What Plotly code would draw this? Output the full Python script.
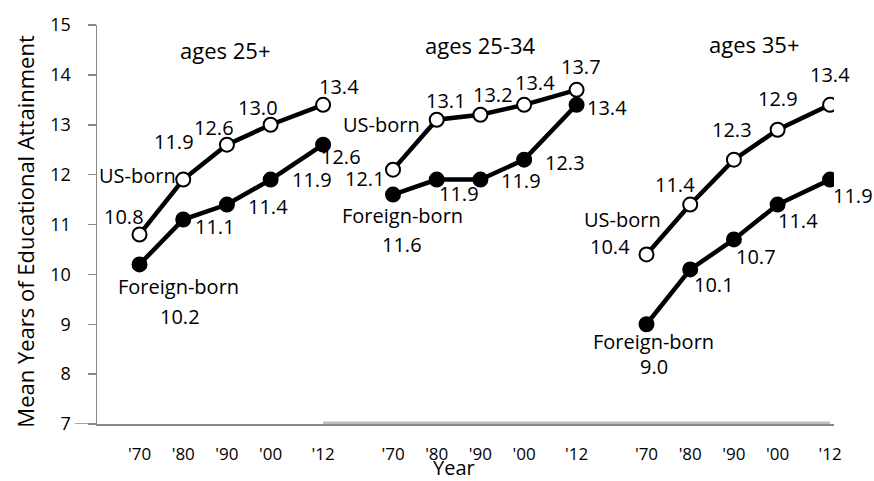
import plotly.graph_objects as go

# ---- data ----
years = [1970, 1980, 1990, 2000, 2012]
year_labels = ["'70", "'80", "'90", "'00", "'12"]
panels = ["ages 25+", "ages 25-34", "ages 35+"]
us_born = [
    [10.8, 11.9, 12.6, 13.0, 13.4],
    [12.1, 13.1, 13.2, 13.4, 13.7],
    [10.4, 11.4, 12.3, 12.9, 13.4],
]
foreign_born = [
    [10.2, 11.1, 11.4, 11.9, 12.6],
    [11.6, 11.9, 11.9, 12.3, 13.4],
    [9.0, 10.1, 10.7, 11.4, 11.9],
]
series_names = ["US-born", "Foreign-born"]

# ---- style / layout ----
GROUP_OFFSET = 58  # gap between panels along the shared year axis
FONT = "Open Sans"
us_off = [
    [(-16, -18), (-9, -38), (-13, -17), (-13, -17), (16, -18)],
    [(-28, 9), (9, -19), (13, -20), (11, -22), (4, -23)],
    [(-37, -8), (-15, -20), (-2, -30), (0, -31), (0, -30)],
]
fb_off = [
    [(40, 52), (32, 7), (41, 2), (41, 0), (18, 12)],
    [(9, 50), (22, 14), (41, 1), (41, 3), (30, 3)],
    [(7, 42), (24, 15), (22, 17), (20, 16), (23, 16)],
]
us_name_off = [(-2, -59), (-12, -45), (-24, -35)]
fb_name_off = [(39, 22), (9, 21), (7, 17)]
title_x = [1989.5, 1990.0, 1994.6]
title_y = [14.5, 14.6, 14.62]

fig = go.Figure()
annotations = []
tickvals, ticktext = [], []

for g in range(3):
    xs = [y + GROUP_OFFSET * g for y in years]
    tickvals += xs
    ticktext += year_labels
    for vals, fill, offs, name, name_off in [
        (us_born[g], "white", us_off[g], series_names[0], us_name_off[g]),
        (foreign_born[g], "black", fb_off[g], series_names[1], fb_name_off[g]),
    ]:
        fig.add_trace(go.Scatter(
            x=xs, y=vals, mode="lines+markers", showlegend=False,
            line=dict(color="black", width=4.5),
            marker=dict(size=14, color=fill, line=dict(color="black", width=2)),
            hoverinfo="skip",
        ))
        for x, v, (dx, dy) in zip(xs, vals, offs):
            annotations.append(dict(
                x=x, y=v, xref="x", yref="y", text=f"{v:.1f}", showarrow=False,
                xshift=dx, yshift=-dy, font=dict(size=20, color="black", family=FONT),
            ))
        annotations.append(dict(
            x=xs[0], y=vals[0], xref="x", yref="y", text=name, showarrow=False,
            xshift=name_off[0], yshift=-name_off[1],
            font=dict(size=20, color="black", family=FONT),
        ))
    annotations.append(dict(
        x=title_x[g] + GROUP_OFFSET * g, y=title_y[g], xref="x", yref="y",
        text=panels[g], showarrow=False, font=dict(size=22, color="black", family=FONT),
    ))

annotations.append(dict(
    x=0.484, y=-0.108, xref="paper", yref="paper", text="Year", showarrow=False,
    yanchor="middle", font=dict(size=20, color="black", family=FONT),
))
annotations.append(dict(
    x=-0.098, y=0.484, xref="paper", yref="paper", text="Mean Years of Educational Attainment",
    showarrow=False, textangle=-90, xanchor="center", yanchor="middle",
    font=dict(size=22, color="black", family=FONT),
))

shapes = [
    dict(type="line", xref="x domain", yref="y", x0=-0.03, x1=0, y0=7, y1=7,
         line=dict(color="#888888", width=1.5)),
    dict(type="line", xref="x", yref="y", x0=years[-1], x1=years[-1] + 2 * GROUP_OFFSET,
         y0=7, y1=7, line=dict(color="#bdbdbd", width=5)),
]

fig.update_layout(
    width=874, height=481,
    margin=dict(l=97, r=40, t=21, b=57),
    plot_bgcolor="white", paper_bgcolor="white",
    font=dict(family=FONT, color="black"),
    annotations=annotations, shapes=shapes,
    xaxis=dict(
        range=[1960.27, 2128.9], showgrid=False, zeroline=False,
        showline=True, linecolor="#888888", linewidth=1.5,
        tickmode="array", tickvals=tickvals, ticktext=ticktext,
        ticks="", tickfont=dict(size=17, color="black"), ticklabelstandoff=14,
    ),
    yaxis=dict(
        range=[7, 15], dtick=1, showgrid=False, zeroline=False,
        showline=True, linecolor="#888888", linewidth=1.5,
        ticks="outside", ticklen=8, tickcolor="#888888", tickwidth=1.5,
        tickfont=dict(size=18, color="black"), ticklabelstandoff=13,
    ),
)

fig.write_html(
    "out.html",
    config={"displayModeBar": False, "staticPlot": True},
    post_script="document.body.style.margin='0';document.body.style.overflow='hidden';",
)
